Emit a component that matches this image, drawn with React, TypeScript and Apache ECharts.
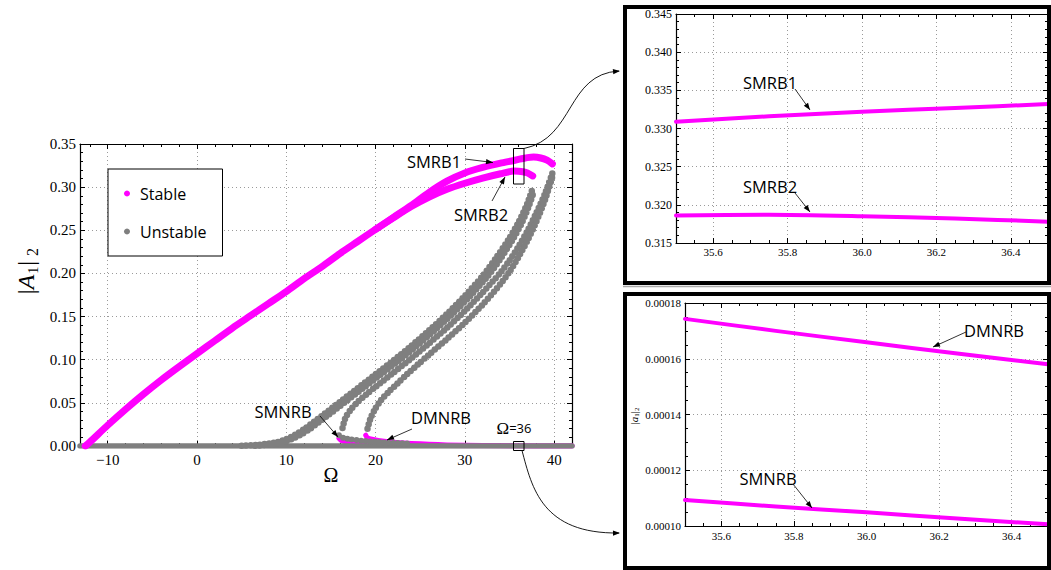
import React, { useEffect, useRef } from "react";
import * as echarts from "echarts";

const SERIF = "Liberation Serif, DejaVu Serif, serif";
const SANS = "Open Sans, Noto Sans, sans-serif";
const MAGENTA = "#ff00ff";
const GRAY = "#7f7f7f";

// ---------- main chart data: [Ω, |A1|^2] ----------
const smrb1Stable = [
  [-12.5, 0], [-12, 0.0045], [-10, 0.024], [-8, 0.0425], [-6, 0.06], [-4, 0.0765], [-2, 0.092],
  [0, 0.107], [2, 0.122], [4, 0.137], [6, 0.151], [8, 0.165], [10, 0.179], [12, 0.194],
  [14, 0.208], [16, 0.223], [18, 0.237], [20, 0.251], [22, 0.265], [24, 0.279], [26, 0.294],
  [28, 0.307], [30, 0.3165], [32, 0.3228], [34, 0.3278], [35.5, 0.3309], [36, 0.3322],
  [36.5, 0.3332], [37, 0.3342], [37.7, 0.3348], [38.5, 0.3338], [39.2, 0.3312], [39.8, 0.327],
];
const smrb2Stable = [
  [20, 0.251], [22, 0.2645], [24, 0.2775], [26, 0.2885], [28, 0.2975], [30, 0.3045], [32, 0.3105],
  [34, 0.3155], [35.5, 0.3186], [36, 0.3185], [36.5, 0.3179], [37, 0.3165], [37.6, 0.313],
];
const smnrbStable = [
  [15.9, 0.009], [16.2, 0.0062], [16.8, 0.0047], [17.5, 0.0038], [18.5, 0.003], [20, 0.0022],
  [22, 0.0015], [25, 0.0009], [28, 0.0005], [32, 0.00025], [36, 0.000105], [40, 0.00005], [42, 0.00003],
];
const dmnrbStable = [
  [18.9, 0.0125], [19.1, 0.0095], [19.6, 0.0078], [20.3, 0.0065], [21.2, 0.0053], [22.3, 0.0042],
  [24, 0.003], [26, 0.002], [28, 0.0013], [32, 0.0006], [36, 0.000166], [40, 0.0001], [42, 0.00008],
];
const trivialUnstable = [[-13.1, 0], [42, 0]];
const unstableL1 = [
  [5, 0.0004], [7, 0.0015], [9, 0.0045], [10, 0.008], [11, 0.013], [12, 0.0195], [14, 0.035],
  [16, 0.051], [18, 0.067], [20, 0.083], [22, 0.099], [24, 0.116], [26, 0.134], [28, 0.153],
  [30, 0.174], [32, 0.197], [33.5, 0.218], [35, 0.241], [36, 0.259], [37, 0.281], [37.6, 0.299],
];
const unstableL2 = [
  [6.5, 0.0004], [8, 0.0015], [9.6, 0.0045], [10.6, 0.008], [11.6, 0.013], [12.6, 0.0195],
  [14.6, 0.035], [16.6, 0.051], [18.6, 0.067], [20.6, 0.083], [22.6, 0.099], [24.6, 0.116],
  [26.6, 0.134], [28.6, 0.153], [30.6, 0.174], [32.5, 0.196], [34, 0.217], [35.4, 0.24],
  [36.4, 0.259], [37.2, 0.279], [37.7, 0.294],
];
const unstableL3 = [
  [16.3, 0.021], [16.6, 0.032], [17.2, 0.042], [18, 0.051], [19, 0.06], [20, 0.0685], [22, 0.085],
  [24, 0.1015], [26, 0.119], [28, 0.137], [30, 0.1565], [32, 0.178], [34, 0.201], [35, 0.215],
  [36, 0.231], [37, 0.249], [38, 0.27], [39, 0.293], [39.8, 0.316],
];
const unstableL4 = [
  [19.1, 0.02], [19.4, 0.031], [19.9, 0.042], [20.6, 0.053], [21.5, 0.063], [22.5, 0.073],
  [23.5, 0.083], [24.8, 0.095], [26, 0.106], [28, 0.124], [30, 0.143], [32, 0.164], [34, 0.188],
  [35, 0.202], [36, 0.219], [37, 0.238], [38, 0.26], [39, 0.286], [39.8, 0.312],
];
const smnrbUnstable = [
  [15.9, 0.0125], [16.4, 0.0095], [17.2, 0.0078], [18.4, 0.0062], [20, 0.0048], [22, 0.0036], [24, 0.0027],
];

// ---------- inset data ----------
const insetSMRB1 = [[35.5, 0.3309], [35.75, 0.3316], [36, 0.3322], [36.25, 0.3327], [36.5, 0.3332]];
const insetSMRB2 = [[35.5, 0.3186], [35.75, 0.3187], [36, 0.3185], [36.25, 0.3182], [36.5, 0.3178]];
const insetDMNRB = [[35.5, 0.0001743], [35.75, 0.00017], [36, 0.0001659], [36.25, 0.0001619], [36.5, 0.000158]];
const insetSMNRB = [[35.5, 0.0001093], [35.75, 0.000107], [36, 0.0001049], [36.25, 0.0001027], [36.5, 0.0001006]];

// ---------- ticks ----------
const mainXMajor = [-10, 0, 10, 20, 30, 40];
const mainXMinorStep = 2;
const insetXMajor = [35.6, 35.8, 36.0, 36.2, 36.4];
const insetXMinorStep = 0.05;

function minorTicks(min: number, max: number, step: number, majors: number[]) {
  const out: number[] = [];
  for (let k = Math.ceil(min / step - 1e-9); k * step <= max + 1e-9; k++) {
    const v = +(k * step).toFixed(6);
    if (!majors.some((m) => Math.abs(m - v) < 1e-9)) out.push(v);
  }
  return out;
}

const gridLine = { show: true, lineStyle: { color: "#9a9a9a", type: [1, 3] as any, width: 1 } };

function xAxesFor(grid: number, min: number, max: number, major: number[], step: number,
  fmt: (v: number) => string, fontSize: number, margin: number) {
  const minor = minorTicks(min, max, step, major);
  const base: any = {
    type: "value", gridIndex: grid, min, max,
    axisLine: { show: false, onZero: false },
    axisLabel: { show: false }, splitLine: { show: false }, axisTick: { show: false },
  };
  const line = { show: true, onZero: false, lineStyle: { color: "#000", width: 1.2 } };
  const majTick = { show: true, inside: true, length: 5, customValues: major, lineStyle: { color: "#000" } };
  const minTick = { show: true, inside: true, length: 3, customValues: minor, lineStyle: { color: "#000" } };
  return [
    {
      ...base, position: "bottom", axisLine: line, axisTick: majTick,
      axisLabel: { show: true, customValues: major, formatter: fmt, fontFamily: SERIF, fontSize, color: "#000", margin },
      splitLine: gridLine,
    },
    { ...base, position: "bottom", axisTick: minTick },
    { ...base, position: "top", axisLine: line, axisTick: majTick },
    { ...base, position: "top", axisTick: minTick },
  ];
}

function yAxesFor(grid: number, min: number, max: number, interval: number, minorSplit: number,
  fmt: (v: number) => string, fontSize: number, margin: number) {
  const common: any = {
    type: "value", gridIndex: grid, min, max, interval,
    axisLine: { show: true, onZero: false, lineStyle: { color: "#000", width: 1.2 } },
    axisTick: { show: true, inside: true, length: 5, lineStyle: { color: "#000" } },
    minorTick: { show: true, splitNumber: minorSplit, length: 3, lineStyle: { color: "#000" } },
  };
  return [
    {
      ...common, position: "left",
      axisLabel: { show: true, formatter: fmt, fontFamily: SERIF, fontSize, color: "#000", margin },
      splitLine: gridLine,
    },
    { ...common, position: "right", axisLabel: { show: false }, splitLine: { show: false } },
  ];
}

function line(name: string, data: number[][], xi: number, yi: number, color: string, width: number, dotted = false) {
  return {
    type: "line", name, data, xAxisIndex: xi, yAxisIndex: yi,
    symbol: "none", showSymbol: false, smooth: 0.25, silent: true, clip: true,
    itemStyle: { color },
    lineStyle: { color, width, cap: "round", join: "round", type: dotted ? [0, 4.6] : "solid" },
    emphasis: { disabled: true },
  };
}

function arrowHead(tx: number, ty: number, fx: number, fy: number, len = 7, half = 2.6) {
  const a = Math.atan2(ty - fy, tx - fx);
  const bx = tx - len * Math.cos(a), by = ty - len * Math.sin(a);
  const px = -Math.sin(a) * half, py = Math.cos(a) * half;
  return {
    type: "polygon", z: 110,
    shape: { points: [[tx, ty], [bx + px, by + py], [bx - px, by - py]] },
    style: { fill: "#000" },
  };
}

function arrow(x1: number, y1: number, x2: number, y2: number) {
  return [
    { type: "line", z: 110, shape: { x1, y1, x2, y2 }, style: { stroke: "#000", lineWidth: 0.8 } },
    arrowHead(x2, y2, x1, y1),
  ];
}

function label(text: string, x: number, y: number, size = 16.5) {
  return {
    type: "text", z: 110, x, y,
    style: { text, fontFamily: SANS, fontSize: size, fill: "#000", align: "center", verticalAlign: "middle" },
  };
}

function buildOption(): any {
  const minusFmt = (v: number) => (v < 0 ? "\u2212" + Math.abs(v) : String(v));
  const xAxis = [
    ...xAxesFor(0, -13.1, 42, mainXMajor, mainXMinorStep, minusFmt, 15, 6),
    ...xAxesFor(1, 35.5, 36.5, insetXMajor, insetXMinorStep, (v) => v.toFixed(1), 11, 3),
    ...xAxesFor(2, 35.5, 36.5, insetXMajor, insetXMinorStep, (v) => v.toFixed(1), 11, 4.5),
  ];
  const yAxis = [
    ...yAxesFor(0, 0, 0.35, 0.05, 5, (v) => v.toFixed(2), 15, 4),
    ...yAxesFor(1, 0.315, 0.345, 0.005, 5, (v) => v.toFixed(3), 12, 4),
    ...yAxesFor(2, 0.0001, 0.00018, 0.00002, 4, (v) => v.toFixed(5), 11, 4),
  ];

  const series = [
    line("Stable", smnrbStable, 0, 0, MAGENTA, 5),
    line("Stable", dmnrbStable, 0, 0, MAGENTA, 5),
    line("Unstable", trivialUnstable, 0, 0, GRAY, 5.5),
    line("Unstable", unstableL1, 0, 0, GRAY, 6.5, true),
    line("Unstable", unstableL2, 0, 0, GRAY, 6.5, true),
    line("Unstable", unstableL3, 0, 0, GRAY, 6.5, true),
    line("Unstable", unstableL4, 0, 0, GRAY, 6.5, true),
    line("Unstable", smnrbUnstable, 0, 0, GRAY, 6, true),
    line("Stable", smrb2Stable, 0, 0, MAGENTA, 7),
    line("Stable", smrb1Stable, 0, 0, MAGENTA, 7),
    line("Stable", insetSMRB1, 4, 2, MAGENTA, 4),
    line("Stable", insetSMRB2, 4, 2, MAGENTA, 4),
    line("Stable", insetDMNRB, 8, 4, MAGENTA, 4),
    line("Stable", insetSMNRB, 8, 4, MAGENTA, 4),
  ];

  const graphic: any[] = [
    // inset frames
    { type: "rect", z: 100, shape: { x: 625, y: 7, width: 424, height: 276 }, style: { fill: "none", stroke: "#000", lineWidth: 4 } },
    { type: "line", z: 100, shape: { x1: 623, y1: 286.5, x2: 1051, y2: 286.5 }, style: { stroke: "#aaa", lineWidth: 1.5 } },
    { type: "rect", z: 100, shape: { x: 625, y: 294, width: 424, height: 274 }, style: { fill: "none", stroke: "#000", lineWidth: 4 } },
    // zoom boxes in main chart
    { type: "rect", z: 100, shape: { x: 513.5, y: 148.5, width: 10.5, height: 35.5 }, style: { fill: "none", stroke: "#000", lineWidth: 1 } },
    { type: "rect", z: 100, shape: { x: 513.5, y: 441.5, width: 10.5, height: 9 }, style: { fill: "none", stroke: "#000", lineWidth: 1 } },
    // connectors
    {
      type: "bezierCurve", z: 100,
      shape: { x1: 524, y1: 148.5, cpx1: 575, cpy1: 138, cpx2: 566, cpy2: 74, x2: 619, y2: 71 },
      style: { stroke: "#000", lineWidth: 0.9, fill: "none" },
    },
    arrowHead(620, 71, 600, 73),
    {
      type: "bezierCurve", z: 100,
      shape: { x1: 522, y1: 450.5, cpx1: 532, cpy1: 488, cpx2: 542, cpy2: 534, x2: 619, y2: 533 },
      style: { stroke: "#000", lineWidth: 0.9, fill: "none" },
    },
    arrowHead(620, 533, 600, 533.3),
    // main annotations
    label("SMRB1", 434, 161), ...arrow(465, 159, 493, 162.5),
    label("SMRB2", 481, 214), ...arrow(492, 201, 505, 177),
    label("SMNRB", 283, 411), ...arrow(320, 416, 338, 437),
    label("DMNRB", 441, 417), ...arrow(412, 429, 387, 440),
    {
      type: "text", z: 110, x: 514, y: 428,
      style: {
        text: "{o|\u03a9}{e|=36}", align: "center", verticalAlign: "middle",
        rich: { o: { fontFamily: SERIF, fontSize: 17, fill: "#000" }, e: { fontFamily: SANS, fontSize: 13, fill: "#000" } },
      },
    },
    // inset annotations
    label("SMRB1", 770, 82), ...arrow(795, 89, 810, 110),
    label("SMRB2", 770, 186), ...arrow(795, 193, 810, 212),
    label("DMNRB", 994, 330), ...arrow(966, 332, 933, 347),
    label("SMNRB", 768, 478), ...arrow(793, 484, 812, 508),
    // axis names
    {
      type: "text", z: 110, x: 331, y: 475,
      style: { text: "\u03a9", fontFamily: SERIF, fontSize: 20, fill: "#000", align: "center", verticalAlign: "middle" },
    },
    {
      type: "text", z: 110, x: 26, y: 271, rotation: Math.PI / 2,
      style: {
        text: "{n||}{i|A}{s|1}{n||}{p|2}", align: "center", verticalAlign: "middle",
        rich: {
          n: { fontFamily: SERIF, fontSize: 24, fill: "#000", lineHeight: 28 },
          i: { fontFamily: SERIF, fontSize: 24, fontStyle: "italic", fill: "#000", lineHeight: 28 },
          s: { fontFamily: SERIF, fontSize: 14, fill: "#000", verticalAlign: "bottom", padding: [0, 1, 0, 1] },
          p: { fontFamily: SERIF, fontSize: 16, fill: "#000", verticalAlign: "bottom", padding: [0, 0, 0, 5] },
        },
      },
    },
    {
      type: "text", z: 110, x: 634, y: 416, rotation: Math.PI / 2,
      style: {
        text: "{n||}{i|a}{s|1}{n||}{s|2}", align: "center", verticalAlign: "middle",
        rich: {
          n: { fontFamily: SERIF, fontSize: 11, fill: "#000", lineHeight: 13 },
          i: { fontFamily: SERIF, fontSize: 11, fontStyle: "italic", fill: "#000", lineHeight: 13 },
          s: { fontFamily: SERIF, fontSize: 7, fill: "#000", verticalAlign: "bottom" },
        },
      },
    },
  ];

  return {
    animation: false,
    backgroundColor: "#fff",
    textStyle: { fontFamily: SANS },
    grid: [
      { left: 80, top: 144, width: 492, height: 302, containLabel: false, outerBoundsMode: "none" },
      { left: 676, top: 14, width: 372, height: 229, containLabel: false, outerBoundsMode: "none" },
      { left: 685, top: 303, width: 363, height: 223, containLabel: false, outerBoundsMode: "none" },
    ],
    legend: {
      show: true, left: 108, top: 169, orient: "vertical", selectedMode: false,
      data: [
        { name: "Stable", icon: "circle", itemStyle: { color: MAGENTA, borderWidth: 0 } },
        { name: "Unstable", icon: "circle", itemStyle: { color: GRAY, borderWidth: 0 } },
      ],
      itemWidth: 16, itemHeight: 6, itemGap: 18,
      padding: [14.5, 16, 14.5, 16],
      borderColor: "#000", borderWidth: 1, backgroundColor: "#fff",
      textStyle: { fontFamily: SANS, fontSize: 16, color: "#000", lineHeight: 20 },
    },
    xAxis,
    yAxis,
    series,
    graphic,
  };
}

export default function App() {
  const ref = useRef<HTMLDivElement>(null);
  useEffect(() => {
    const chart = echarts.init(ref.current!, null, { renderer: "svg" });
    chart.setOption(buildOption());
    return () => chart.dispose();
  }, []);
  return (
    <div
      ref={ref}
      style={{ position: "fixed", left: 0, top: 0, width: 1051, height: 570, background: "#fff" }}
    />
  );
}
